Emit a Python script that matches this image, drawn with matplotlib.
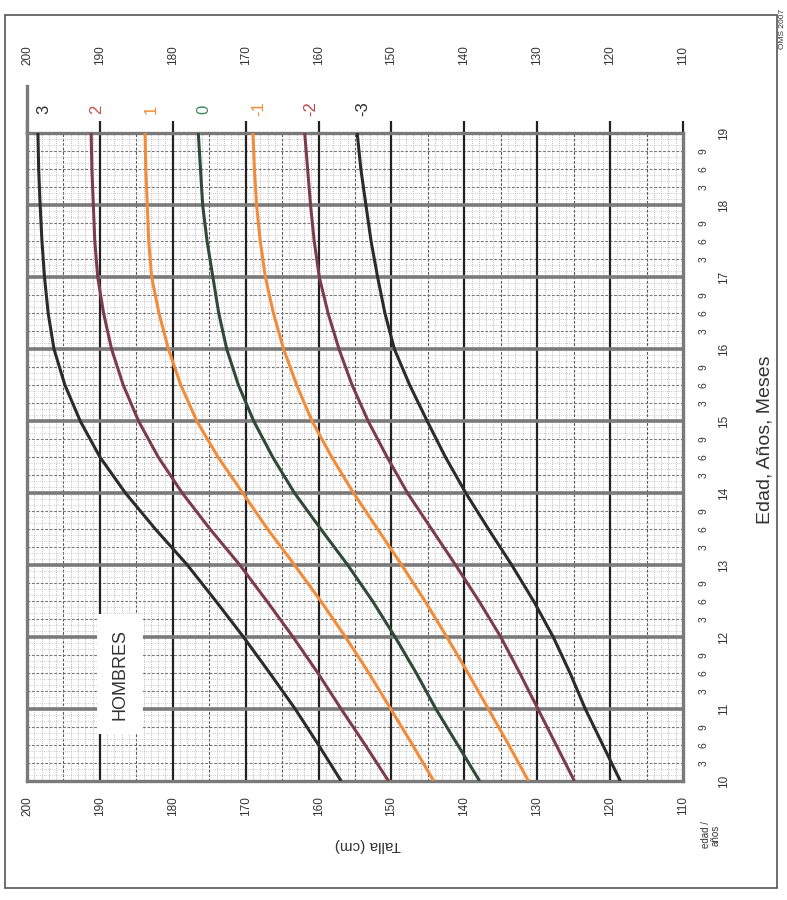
import matplotlib.pyplot as plt
from matplotlib.patches import Rectangle

plt.rcParams['font.family'] = ['Liberation Sans', 'DejaVu Sans']

# edad (años) y talla (cm) por desviación estándar
ages = [10, 10.5, 11, 11.5, 12, 12.5, 13, 13.5, 14, 14.5, 15, 15.5, 16, 16.5, 17, 17.5, 18, 18.5, 19]
sd_p3 = [156.9, 160.0, 163.2, 166.7, 170.3, 174.1, 178.0, 182.4, 186.5, 190.0, 192.7, 194.8, 196.3, 197.1, 197.6, 197.95, 198.2, 198.4, 198.5]
sd_p2 = [150.4, 153.6, 156.9, 160.1, 163.5, 167.1, 170.8, 174.9, 178.7, 182.0, 184.7, 186.8, 188.4, 189.5, 190.3, 190.7, 190.9, 191.1, 191.2]
sd_p1 = [144.2, 147.1, 150.1, 153.1, 156.3, 159.7, 163.3, 167.0, 170.4, 173.8, 176.7, 178.9, 180.6, 181.9, 182.9, 183.3, 183.5, 183.7, 183.8]
sd_0 = [137.9, 140.9, 143.9, 146.6, 149.5, 152.6, 156.0, 159.7, 163.3, 166.3, 168.9, 171.0, 172.6, 173.7, 174.5, 175.3, 175.9, 176.2, 176.5]
sd_m1 = [131.2, 133.9, 136.7, 139.5, 142.4, 145.4, 148.6, 151.9, 155.2, 158.2, 160.9, 163.0, 164.8, 166.2, 167.3, 168.0, 168.5, 168.8, 169.0]
sd_m2 = [124.9, 127.4, 129.9, 132.4, 135.0, 138.0, 141.2, 144.5, 147.8, 150.6, 153.2, 155.4, 157.2, 158.7, 159.9, 160.6, 161.1, 161.5, 161.9]
sd_m3 = [118.6, 121.0, 123.4, 125.5, 127.8, 130.5, 133.5, 136.7, 139.8, 142.6, 145.1, 147.5, 149.6, 150.9, 151.9, 152.8, 153.5, 154.2, 154.7]

curve_labels = ['3', '2', '1', '0', '-1', '-2', '-3']
height_ticks = [200, 190, 180, 170, 160, 150, 140, 130, 120, 110]
year_ticks = [10, 11, 12, 13, 14, 15, 16, 17, 18, 19]
month_labels = ['3', '6', '9']

series = [sd_p3, sd_p2, sd_p1, sd_0, sd_m1, sd_m2, sd_m3]
line_colors = ['#2b2b2b', '#7d3c4c', '#f28c3a', '#2f4a36', '#f28c3a', '#7d3c4c', '#2b2b2b']
label_colors = ['#2b2b2b', '#c8504a', '#f28c3a', '#3f8a55', '#f28c3a', '#b5484a', '#2b2b2b']

fig = plt.figure(figsize=(7.87, 9.0), dpi=100)
ax = fig.add_axes([27 / 787, 119 / 900, 656 / 787, 648 / 900])
ax.set_xlim(200, 110)
ax.set_ylim(10, 19)

# papel milimetrado (gráfico girado: talla en horizontal, edad en vertical)
for h in range(111, 200):
    if h % 10 == 0:
        continue
    if h % 5 == 0:
        ax.axvline(h, color='#555555', lw=0.8, ls=(0, (2.5, 1.5)), zorder=1)
    else:
        ax.axvline(h, color='#a8a8a8', lw=0.6, ls=(0, (1, 1.5)), zorder=1)
for m in range(1, 108):
    if m % 12 == 0:
        continue
    y = 10 + m / 12
    if m % 3 == 0:
        ax.axhline(y, color='#777777', lw=0.8, ls=(0, (2.5, 1.5)), zorder=1)
    else:
        ax.axhline(y, color='#bdbdbd', lw=0.6, ls=(0, (1, 1.5)), zorder=1)
for h in height_ticks[1:-1]:
    ax.axvline(h, color='#222222', lw=1.6, zorder=2)
for yr in year_ticks[1:-1]:
    ax.axhline(yr, color='#7a7a7a', lw=2.6, zorder=2)

for s, c in zip(series, line_colors):
    ax.plot(s, ages, color=c, lw=2.2, zorder=4, solid_capstyle='butt')

for s, lab, c in zip(series, curve_labels, label_colors):
    ax.text(s[-1] - 0.8, 1.037, lab, transform=ax.get_xaxis_transform(),
            rotation=90, ha='center', va='center', fontsize=12, color=c)

for sp in ax.spines.values():
    sp.set_color('#7a7a7a')
    sp.set_linewidth(2.4)
ax.plot([200, 200], [19, 19.65], color='#7a7a7a', lw=2.4, clip_on=False)

# talla: marcas arriba, etiquetas arriba y abajo
ax.set_xticks(height_ticks)
ax.set_xticklabels([str(h) for h in height_ticks], rotation=90, fontsize=8.5, color='#333333')
ax.tick_params(axis='x', bottom=False, top=True, direction='out', length=9, width=1.6,
               color='#222222', pad=2, labelbottom=True, labeltop=False)
for h in height_ticks:
    ax.text(h, 1.12, str(h), transform=ax.get_xaxis_transform(), rotation=90,
            ha='center', va='center', fontsize=8.5, color='#333333')

# edad: años y meses a la derecha
ax.yaxis.tick_right()
ax.set_yticks(year_ticks)
ax.set_yticklabels([str(y) for y in year_ticks], rotation=90, fontsize=8.5, color='#333333', va='center')
minor_pos = [y + k / 4 for y in year_ticks[:-1] for k in (1, 2, 3)]
ax.set_yticks(minor_pos, minor=True)
ax.set_yticklabels(month_labels * (len(year_ticks) - 1), minor=True, rotation=90, fontsize=7.5,
                   color='#333333', va='center')
ax.tick_params(axis='y', which='major', length=0, pad=25)
ax.tick_params(axis='y', which='minor', length=0, pad=11)

ax.text(0.142, 0.165, 'HOMBRES', transform=ax.transAxes, rotation=90, ha='center', va='center',
        fontsize=13, color='#333333', zorder=5,
        bbox=dict(facecolor='white', edgecolor='none', boxstyle='square,pad=0.8'))

fig.text(765 / 787, 1 - 440 / 900, 'Edad, Años, Meses', rotation=90, ha='center', va='center',
         fontsize=14, color='#333333')
fig.text(368 / 787, 1 - 845 / 900, 'Talla (cm)', rotation=180, ha='center', va='center',
         fontsize=11, color='#333333')
fig.text(711 / 787, 1 - 835 / 900, 'edad /\naños', rotation=90, ha='center', va='center',
         fontsize=7, color='#333333', linespacing=1.0)
fig.text(782 / 787, 0.99, 'OMS 2007', rotation=90, ha='center', va='top', fontsize=6, color='#333333')

fig.patches.append(Rectangle((5 / 787, 12 / 900), 772 / 787, 873 / 900, transform=fig.transFigure,
                             fill=False, edgecolor='#555555', lw=1.2))

fig.savefig('out.png', dpi=100)
